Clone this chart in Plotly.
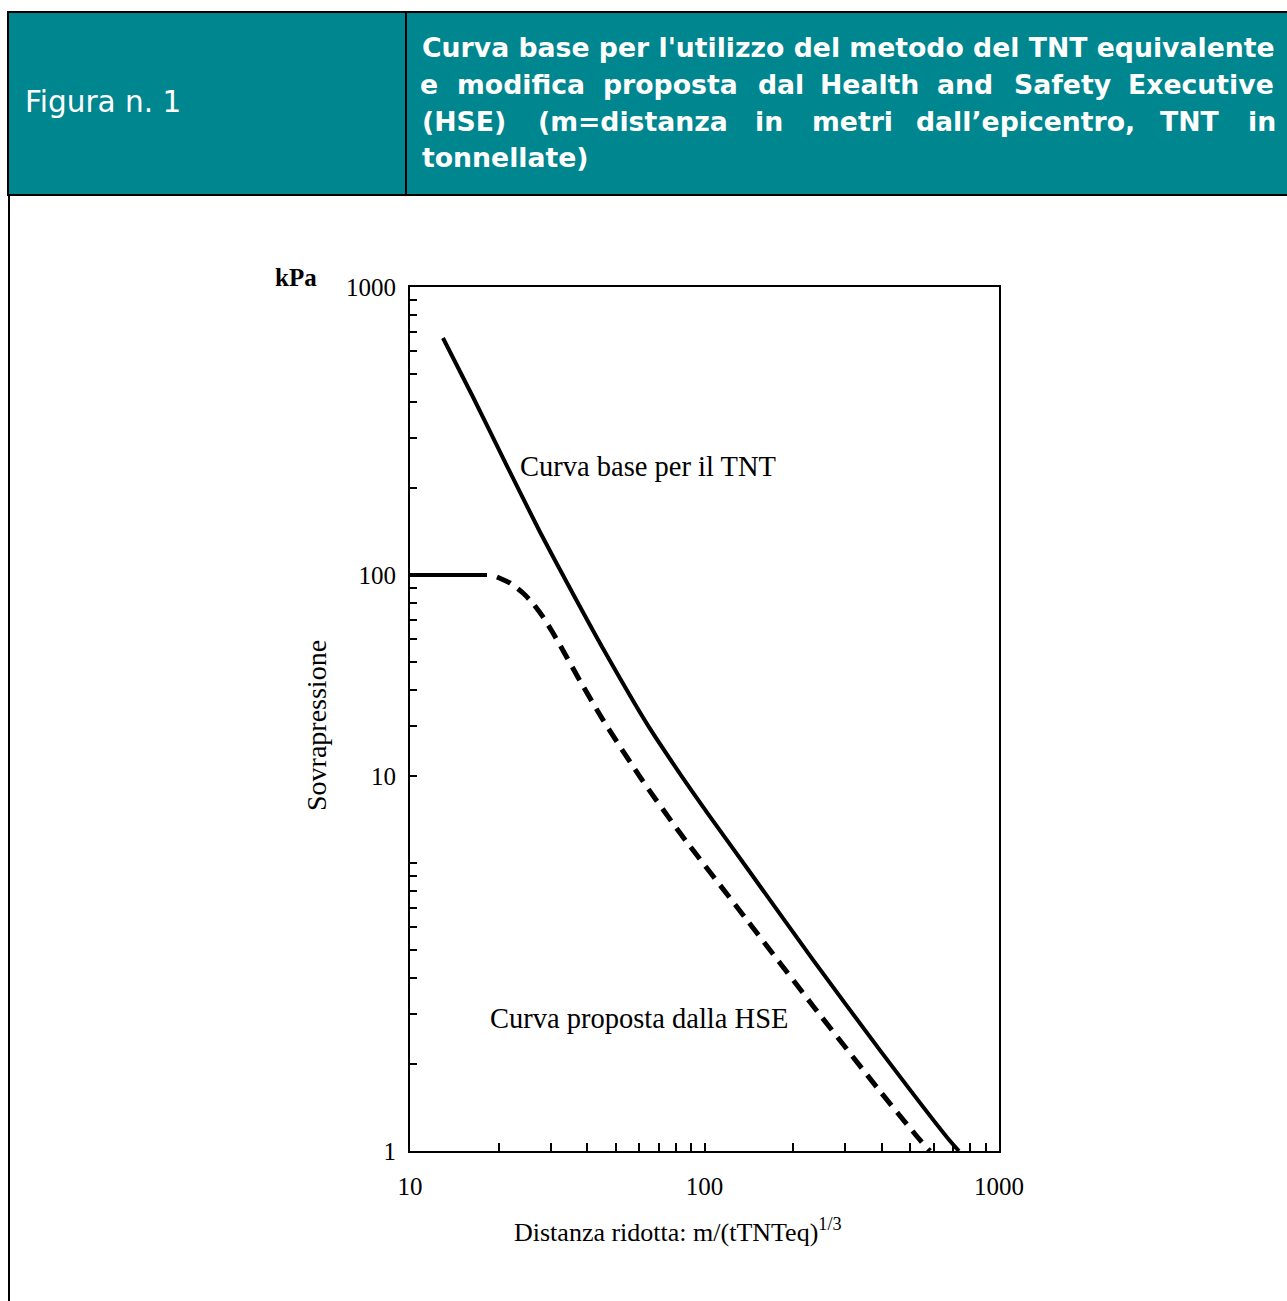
import plotly.graph_objects as go

# ---------------- data ----------------
# Curva base per il TNT  (x: distanza ridotta m/(tTNTeq)^1/3, y: sovrapressione kPa)
tnt_x = [12.94, 16.36, 21.35, 27.63, 35.49, 45.93, 63.78, 82.6, 106.9, 139.4, 233.6, 394, 682, 731]
tnt_y = [665, 415, 239, 141, 87.3, 54.0, 30.4, 20.4, 14.0, 9.61, 4.61, 2.24, 1.083, 1.0]

# Curva proposta dalla HSE : plateau at 100 kPa (solid), then the dashed branch
hse_plateau_x = [10, 18.26]
hse_plateau_y = [100, 100]
hse_x = [19.74, 21.86, 24.19, 26.16, 28.29, 30.59, 33.08, 37.78, 45.22, 60.39,
         82.6, 139.4, 233.6, 394, 539, 583]
hse_y = [98.4, 93.8, 86.6, 79.6, 71.5, 62.9, 54.7, 42.9, 31.4, 19.9,
         12.7, 6.34, 3.19, 1.615, 1.092, 1.0]

# axis ticks (the reference prints its "10" label on the 20 kPa tick)
y_major_vals = [1, 20, 100, 1000]
y_major_text = ["1", "10", "100", "1000"]
y_minor_vals = [2, 3, 4, 5, 6, 7, 8, 9, 10, 30, 40, 50, 60, 70, 80, 90,
                200, 300, 400, 500, 600, 700, 800, 900]
x_major_vals = [10, 100, 1000]
x_major_text = ["10", "100", "1000"]
x_minor_vals = [20, 30, 40, 50, 60, 70, 80, 90, 200, 300, 400, 500, 600, 700, 800, 900]

header_left = "Figura n. 1"
header_line1 = "Curva base per l'utilizzo del metodo del TNT equivalente"
header_line2 = ["e", "modifica", "proposta", "dal", "Health", "and", "Safety", "Executive"]
header_line3 = ["(HSE)", "(m=distanza", "in", "metri", "dall’epicentro,", "TNT", "in"]
header_line4 = "tonnellate)"

# ---------------- layout helpers (pixel -> paper) ----------------
W, H = 1287, 1301
L, R, T, B = 410, 999, 287, 1151


def px(x):
    return (x - L) / (R - L)


def py(y):
    return (B - y) / (B - T)


TEAL = "#00868F"
SERIF = "Liberation Serif"
SANS = "DejaVu Sans"

fig = go.Figure()

fig.add_trace(go.Scatter(x=tnt_x, y=tnt_y, mode="lines", name="Curva base per il TNT",
                         line=dict(color="black", width=4, shape="spline", smoothing=0.6)))
fig.add_trace(go.Scatter(x=hse_plateau_x, y=hse_plateau_y, mode="lines",
                         name="Curva proposta dalla HSE", showlegend=False,
                         line=dict(color="black", width=4)))
fig.add_trace(go.Scatter(x=hse_x, y=hse_y, mode="lines", name="Curva proposta dalla HSE",
                         line=dict(color="black", width=5, dash="15px,9px",
                                   shape="spline", smoothing=0.6)))

axis_common = dict(type="log", showline=True, linewidth=2, linecolor="black", mirror=True,
                   ticks="inside", tickwidth=2, tickcolor="black", showgrid=False,
                   zeroline=False, tickmode="array",
                   tickfont=dict(family=SERIF, size=25, color="black"))

fig.update_xaxes(range=[1, 3], tickvals=x_major_vals, ticktext=x_major_text,
                 ticklen=8, ticklabelstandoff=12,
                 minor=dict(tickmode="array", tickvals=x_minor_vals, ticks="inside",
                            ticklen=8, tickwidth=2, tickcolor="black", showgrid=False),
                 **axis_common)
fig.update_yaxes(range=[0, 3], tickvals=y_major_vals, ticktext=y_major_text,
                 ticklen=7, ticklabelstandoff=7,
                 minor=dict(tickmode="array", tickvals=y_minor_vals, ticks="inside",
                            ticklen=7, tickwidth=2, tickcolor="black", showgrid=False),
                 **axis_common)

annotations = []


def ann(text, x, y, size, family=SERIF, color="black", xanchor="left", yanchor="middle",
        angle=0):
    annotations.append(dict(text=text, x=px(x), y=py(y), xref="paper", yref="paper",
                            showarrow=False, xanchor=xanchor, yanchor=yanchor,
                            textangle=angle,
                            font=dict(family=family, size=size, color=color)))


# chart texts
ann("Curva base per il TNT", 518, 466, 28.5)
ann("Curva proposta dalla HSE", 488, 1018, 28.5)
ann("<b>kPa</b>", 273, 278, 25)
ann("Sovrapressione", 316, 726, 28, xanchor="center", angle=-90)
ann("Distanza ridotta: m/(tTNTeq)<sup>1/3</sup>", 678, 1230, 26, xanchor="center")

# header texts
ann(header_left, 23, 102, 29.5, family=SANS, color="white")
ann("<b>" + header_line1 + "</b>", 420, 47, 26.7, family=SANS, color="white")
line2_centers = [429, 521, 670, 781, 869, 965, 1062, 1201]
for w, cx in zip(header_line2, line2_centers):
    ann("<b>" + w + "</b>", cx, 84, 26.7, family=SANS, color="white", xanchor="center")
line3_centers = [464, 633, 769, 852, 1025, 1190, 1262]
for w, cx in zip(header_line3, line3_centers):
    ann("<b>" + w + "</b>", cx, 121, 26.7, family=SANS, color="white", xanchor="center")
ann("<b>" + header_line4 + "</b>", 420, 158, 26.7, family=SANS, color="white")

shapes = [
    dict(type="rect", xref="paper", yref="paper", x0=px(8), x1=px(1300), y0=py(12), y1=py(195),
         fillcolor=TEAL, line=dict(color="black", width=2), layer="below"),
    dict(type="line", xref="paper", yref="paper", x0=px(406), x1=px(406), y0=py(12), y1=py(195),
         line=dict(color="black", width=2)),
    dict(type="line", xref="paper", yref="paper", x0=px(9), x1=px(9), y0=py(195), y1=py(1310),
         line=dict(color="black", width=2)),
]

fig.update_layout(width=W, height=H, autosize=False,
                  margin=dict(l=L, r=W - R, t=T, b=H - B, pad=0),
                  paper_bgcolor="white", plot_bgcolor="white",
                  showlegend=False, annotations=annotations, shapes=shapes)

fig.write_html("out.html", config={"displayModeBar": False},
               post_script="document.body.style.margin='0';")
